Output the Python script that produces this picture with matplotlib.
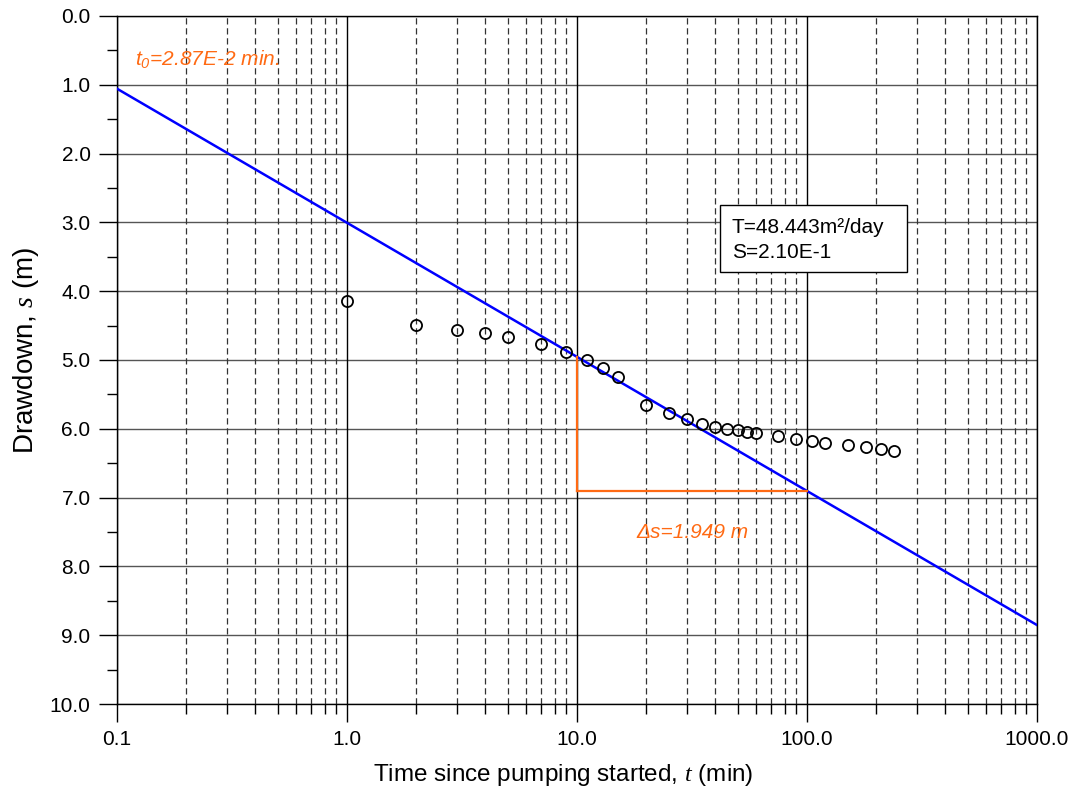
import numpy as np
import matplotlib
matplotlib.use("Agg")
import matplotlib.pyplot as plt
from matplotlib.ticker import FixedLocator, FuncFormatter, LogLocator, NullFormatter
from matplotlib.patches import Rectangle

plt.rcParams['font.family'] = ['Liberation Sans', 'DejaVu Sans']
plt.rcParams['mathtext.fontset'] = 'custom'
plt.rcParams['mathtext.it'] = 'Liberation Serif:italic'
plt.rcParams['mathtext.rm'] = 'Liberation Sans'
plt.rcParams['mathtext.sf'] = 'Liberation Sans:italic'

# Observed data
time_min = [1, 2, 3, 4, 5, 7, 9, 11, 13, 15, 20, 25, 30, 35, 40, 45, 50, 55, 60,
            75, 90, 105, 120, 150, 180, 210, 240]
drawdown_m = [4.14, 4.49, 4.56, 4.61, 4.67, 4.77, 4.88, 5.00, 5.11, 5.24, 5.65, 5.77,
              5.86, 5.93, 5.97, 6.00, 6.02, 6.04, 6.06, 6.11, 6.15, 6.18, 6.21, 6.24,
              6.27, 6.29, 6.32]

# Cooper-Jacob fit parameters
t0 = 0.0287
delta_s = 1.949
fit_t = [0.1, 1000.0]
tri_t = [10.0, 100.0]

x_ticks = [0.1, 1, 10, 100, 1000]
x_tick_labels = ["0.1", "1.0", "10.0", "100.0", "1000.0"]
y_ticks = list(range(0, 11))

ORANGE = '#FF6A13'

def fit_s(t):
    return delta_s * np.log10(np.asarray(t) / t0)

fig = plt.figure(figsize=(10.8, 7.92), dpi=100)
ax = fig.add_axes([117/1080, 1 - 704/792, 920/1080, 688/792])

ax.set_xscale('log')
ax.set_xlim(0.1, 1000)
ax.set_ylim(10, 0)

# grid
for yv in y_ticks:
    ax.axhline(yv, color='#555555', lw=1.0, zorder=1)
for dec in [0.1, 1, 10, 100, 1000]:
    ax.axvline(dec, color='black', lw=1.0, zorder=1)
for dec in [0.1, 1, 10, 100]:
    for k in range(2, 10):
        ax.axvline(dec * k, color='#333333', lw=0.9, ls=(0, (5, 3)), zorder=1)

# fit line
ax.plot(fit_t, fit_s(fit_t), color='#0000FF', lw=1.8, zorder=3)

# slope triangle
s10, s100 = fit_s(tri_t)
ax.plot([tri_t[0], tri_t[0]], [s10, s100], color=ORANGE, lw=1.6, zorder=3)
ax.plot([tri_t[0], tri_t[1]], [s100, s100], color=ORANGE, lw=1.6, zorder=3)

# data
ax.plot(time_min, drawdown_m, ls='none', marker='o', ms=8, mfc='none',
        mec='black', mew=1.3, zorder=4)

# ticks
ax.xaxis.set_major_locator(FixedLocator(x_ticks))
ax.xaxis.set_major_formatter(FuncFormatter(lambda v, p: x_tick_labels[x_ticks.index(v)] if v in x_ticks else ''))
ax.xaxis.set_minor_locator(LogLocator(base=10, subs=np.arange(2, 10)))
ax.xaxis.set_minor_formatter(NullFormatter())
ax.yaxis.set_major_locator(FixedLocator(y_ticks))
ax.yaxis.set_major_formatter(FuncFormatter(lambda v, p: f"{v:.1f}"))
ax.yaxis.set_minor_locator(FixedLocator(np.arange(0.5, 10, 1.0)))
ax.tick_params(which='major', direction='out', length=13, width=1.0, labelsize=15, pad=6)
ax.tick_params(which='minor', direction='out', length=7, width=1.0)
for sp in ax.spines.values():
    sp.set_linewidth(1.0)

ax.set_xlabel(r'Time since pumping started, $t$ (min)', fontsize=17.5, va='baseline')
ax.xaxis.set_label_coords((563 - 117) / 920, -(781 - 704) / 688)
ax.set_ylabel(r'Drawdown, $s$ (m)', fontsize=20, va='baseline')
ax.yaxis.set_label_coords((33 - 117) / 920, 1 - (350 - 16) / 688)

# annotations
ax.text(18 / 920, 1 - (60 - 16) / 688, r'$\mathsf{t_0}$=2.87E-2 min.', transform=ax.transAxes,
        color=ORANGE, fontsize=15, style='italic', ha='left', va='center')
ax.text(10 ** ((636 - 117) / 230 - 1), 7.5, '\u0394s=1.949 m', color=ORANGE, fontsize=15,
        style='italic', ha='left', va='center')

# parameter box
bx0 = (720 - 117) / 920
by0 = 1 - (272 - 16) / 688
bw = (907 - 720) / 920
bh = (272 - 205) / 688
ax.add_patch(Rectangle((bx0, by0), bw, bh, transform=ax.transAxes, facecolor='white',
                       edgecolor='black', lw=1.0, zorder=5))
ax.text((732 - 117) / 920, 1 - (240 - 16) / 688, 'T=48.443m\u00b2/day\nS=2.10E-1', transform=ax.transAxes,
        fontsize=15, ha='left', va='center', linespacing=1.36, zorder=6)

fig.savefig('out.png', dpi=100)
